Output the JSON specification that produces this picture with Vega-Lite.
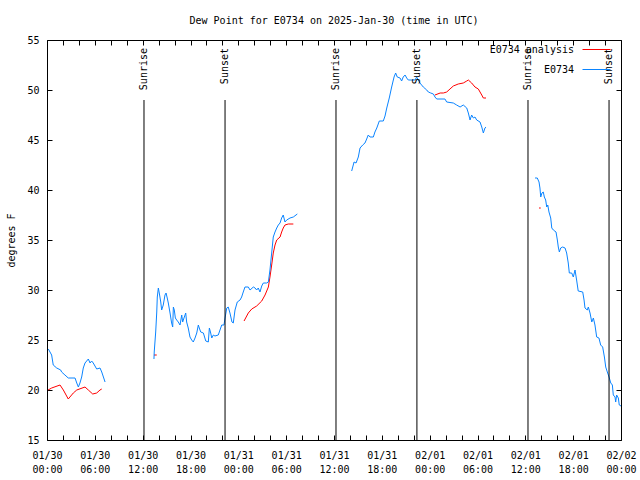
{
  "$schema": "https://vega.github.io/schema/vega-lite/v6.json",
  "width": 574,
  "height": 400,
  "autosize": {"type": "none"},
  "padding": {"left": 47, "top": 40, "right": 19, "bottom": 40},
  "background": "white",
  "config": {
    "font": "DejaVu Sans Mono",
    "view": {"stroke": "black", "strokeWidth": 1},
    "axis": {"labelFont": "DejaVu Sans Mono", "labelFontSize": 10, "titleFont": "DejaVu Sans Mono", "titleFontSize": 10, "titleFontWeight": "normal", "labelColor": "black", "titleColor": "black", "tickColor": "black", "domain": false, "grid": false},
    "legend": {"labelFont": "DejaVu Sans Mono", "labelFontSize": 10, "labelColor": "black"}
  },
  "title": {"text": "Dew Point for E0734 on 2025-Jan-30 (time in UTC)", "font": "DejaVu Sans Mono", "fontSize": 10, "fontWeight": "normal", "color": "black", "anchor": "middle", "offset": 9},
  "datasets": {
    "obs": [
      {"t": "2025-01-30T00:08:00Z", "v": 20.0, "s": "E0734 analysis", "g": "r1"},
      {"t": "2025-01-30T00:35:00Z", "v": 20.2, "s": "E0734 analysis", "g": "r1"},
      {"t": "2025-01-30T01:38:00Z", "v": 20.5, "s": "E0734 analysis", "g": "r1"},
      {"t": "2025-01-30T02:03:00Z", "v": 20.0, "s": "E0734 analysis", "g": "r1"},
      {"t": "2025-01-30T02:40:00Z", "v": 19.1, "s": "E0734 analysis", "g": "r1"},
      {"t": "2025-01-30T03:18:00Z", "v": 19.7, "s": "E0734 analysis", "g": "r1"},
      {"t": "2025-01-30T03:44:00Z", "v": 20.0, "s": "E0734 analysis", "g": "r1"},
      {"t": "2025-01-30T04:46:00Z", "v": 20.3, "s": "E0734 analysis", "g": "r1"},
      {"t": "2025-01-30T05:11:00Z", "v": 20.0, "s": "E0734 analysis", "g": "r1"},
      {"t": "2025-01-30T05:44:00Z", "v": 19.6, "s": "E0734 analysis", "g": "r1"},
      {"t": "2025-01-30T06:14:00Z", "v": 19.7, "s": "E0734 analysis", "g": "r1"},
      {"t": "2025-01-30T06:39:00Z", "v": 20.0, "s": "E0734 analysis", "g": "r1"},
      {"t": "2025-01-30T06:52:00Z", "v": 20.1, "s": "E0734 analysis", "g": "r1"},
      {"t": "2025-01-30T13:25:00Z", "v": 23.5, "s": "E0734 analysis", "g": "r2"},
      {"t": "2025-01-30T13:46:00Z", "v": 23.5, "s": "E0734 analysis", "g": "r2"},
      {"t": "2025-01-31T00:43:00Z", "v": 26.9, "s": "E0734 analysis", "g": "r3"},
      {"t": "2025-01-31T01:15:00Z", "v": 27.7, "s": "E0734 analysis", "g": "r3"},
      {"t": "2025-01-31T01:41:00Z", "v": 28.1, "s": "E0734 analysis", "g": "r3"},
      {"t": "2025-01-31T02:18:00Z", "v": 28.4, "s": "E0734 analysis", "g": "r3"},
      {"t": "2025-01-31T02:56:00Z", "v": 28.9, "s": "E0734 analysis", "g": "r3"},
      {"t": "2025-01-31T03:21:00Z", "v": 29.5, "s": "E0734 analysis", "g": "r3"},
      {"t": "2025-01-31T03:46:00Z", "v": 30.3, "s": "E0734 analysis", "g": "r3"},
      {"t": "2025-01-31T03:58:00Z", "v": 31.3, "s": "E0734 analysis", "g": "r3"},
      {"t": "2025-01-31T04:11:00Z", "v": 32.5, "s": "E0734 analysis", "g": "r3"},
      {"t": "2025-01-31T04:23:00Z", "v": 33.7, "s": "E0734 analysis", "g": "r3"},
      {"t": "2025-01-31T04:36:00Z", "v": 34.5, "s": "E0734 analysis", "g": "r3"},
      {"t": "2025-01-31T04:49:00Z", "v": 35.0, "s": "E0734 analysis", "g": "r3"},
      {"t": "2025-01-31T05:14:00Z", "v": 35.3, "s": "E0734 analysis", "g": "r3"},
      {"t": "2025-01-31T05:26:00Z", "v": 35.8, "s": "E0734 analysis", "g": "r3"},
      {"t": "2025-01-31T05:38:00Z", "v": 36.2, "s": "E0734 analysis", "g": "r3"},
      {"t": "2025-01-31T05:51:00Z", "v": 36.5, "s": "E0734 analysis", "g": "r3"},
      {"t": "2025-01-31T06:16:00Z", "v": 36.6, "s": "E0734 analysis", "g": "r3"},
      {"t": "2025-01-31T06:54:00Z", "v": 36.6, "s": "E0734 analysis", "g": "r3"},
      {"t": "2025-02-01T00:40:00Z", "v": 49.5, "s": "E0734 analysis", "g": "r4"},
      {"t": "2025-02-01T01:19:00Z", "v": 49.7, "s": "E0734 analysis", "g": "r4"},
      {"t": "2025-02-01T01:43:00Z", "v": 49.7, "s": "E0734 analysis", "g": "r4"},
      {"t": "2025-02-01T02:08:00Z", "v": 49.8, "s": "E0734 analysis", "g": "r4"},
      {"t": "2025-02-01T02:33:00Z", "v": 50.1, "s": "E0734 analysis", "g": "r4"},
      {"t": "2025-02-01T02:58:00Z", "v": 50.4, "s": "E0734 analysis", "g": "r4"},
      {"t": "2025-02-01T03:35:00Z", "v": 50.6, "s": "E0734 analysis", "g": "r4"},
      {"t": "2025-02-01T04:13:00Z", "v": 50.7, "s": "E0734 analysis", "g": "r4"},
      {"t": "2025-02-01T04:39:00Z", "v": 50.9, "s": "E0734 analysis", "g": "r4"},
      {"t": "2025-02-01T04:51:00Z", "v": 51.0, "s": "E0734 analysis", "g": "r4"},
      {"t": "2025-02-01T05:16:00Z", "v": 50.7, "s": "E0734 analysis", "g": "r4"},
      {"t": "2025-02-01T05:41:00Z", "v": 50.3, "s": "E0734 analysis", "g": "r4"},
      {"t": "2025-02-01T06:06:00Z", "v": 50.1, "s": "E0734 analysis", "g": "r4"},
      {"t": "2025-02-01T06:32:00Z", "v": 49.5, "s": "E0734 analysis", "g": "r4"},
      {"t": "2025-02-01T06:44:00Z", "v": 49.2, "s": "E0734 analysis", "g": "r4"},
      {"t": "2025-02-01T07:04:00Z", "v": 49.2, "s": "E0734 analysis", "g": "r4"},
      {"t": "2025-02-01T13:43:00Z", "v": 38.2, "s": "E0734 analysis", "g": "r5"},
      {"t": "2025-02-01T13:56:00Z", "v": 38.2, "s": "E0734 analysis", "g": "r5"},
      {"t": "2025-01-30T00:10:00Z", "v": 24.1, "s": "E0734", "g": "b1"},
      {"t": "2025-01-30T00:35:00Z", "v": 23.5, "s": "E0734", "g": "b1"},
      {"t": "2025-01-30T00:47:00Z", "v": 22.5, "s": "E0734", "g": "b1"},
      {"t": "2025-01-30T01:13:00Z", "v": 22.2, "s": "E0734", "g": "b1"},
      {"t": "2025-01-30T01:43:00Z", "v": 22.0, "s": "E0734", "g": "b1"},
      {"t": "2025-01-30T01:50:00Z", "v": 21.8, "s": "E0734", "g": "b1"},
      {"t": "2025-01-30T02:15:00Z", "v": 21.5, "s": "E0734", "g": "b1"},
      {"t": "2025-01-30T02:40:00Z", "v": 21.2, "s": "E0734", "g": "b1"},
      {"t": "2025-01-30T03:31:00Z", "v": 21.2, "s": "E0734", "g": "b1"},
      {"t": "2025-01-30T03:44:00Z", "v": 20.7, "s": "E0734", "g": "b1"},
      {"t": "2025-01-30T03:56:00Z", "v": 20.3, "s": "E0734", "g": "b1"},
      {"t": "2025-01-30T04:08:00Z", "v": 20.7, "s": "E0734", "g": "b1"},
      {"t": "2025-01-30T04:21:00Z", "v": 21.3, "s": "E0734", "g": "b1"},
      {"t": "2025-01-30T04:33:00Z", "v": 22.2, "s": "E0734", "g": "b1"},
      {"t": "2025-01-30T04:46:00Z", "v": 22.7, "s": "E0734", "g": "b1"},
      {"t": "2025-01-30T05:11:00Z", "v": 23.1, "s": "E0734", "g": "b1"},
      {"t": "2025-01-30T05:24:00Z", "v": 22.7, "s": "E0734", "g": "b1"},
      {"t": "2025-01-30T05:36:00Z", "v": 22.9, "s": "E0734", "g": "b1"},
      {"t": "2025-01-30T05:48:00Z", "v": 22.7, "s": "E0734", "g": "b1"},
      {"t": "2025-01-30T06:14:00Z", "v": 22.1, "s": "E0734", "g": "b1"},
      {"t": "2025-01-30T06:39:00Z", "v": 22.2, "s": "E0734", "g": "b1"},
      {"t": "2025-01-30T06:52:00Z", "v": 21.8, "s": "E0734", "g": "b1"},
      {"t": "2025-01-30T07:17:00Z", "v": 20.8, "s": "E0734", "g": "b1"},
      {"t": "2025-01-30T13:25:00Z", "v": 23.1, "s": "E0734", "g": "b2"},
      {"t": "2025-01-30T13:27:00Z", "v": 23.8, "s": "E0734", "g": "b2"},
      {"t": "2025-01-30T13:38:00Z", "v": 25.8, "s": "E0734", "g": "b2"},
      {"t": "2025-01-30T13:46:00Z", "v": 27.8, "s": "E0734", "g": "b2"},
      {"t": "2025-01-30T13:50:00Z", "v": 29.3, "s": "E0734", "g": "b2"},
      {"t": "2025-01-30T13:58:00Z", "v": 30.2, "s": "E0734", "g": "b2"},
      {"t": "2025-01-30T14:05:00Z", "v": 29.7, "s": "E0734", "g": "b2"},
      {"t": "2025-01-30T14:16:00Z", "v": 28.8, "s": "E0734", "g": "b2"},
      {"t": "2025-01-30T14:23:00Z", "v": 28.0, "s": "E0734", "g": "b2"},
      {"t": "2025-01-30T14:35:00Z", "v": 28.5, "s": "E0734", "g": "b2"},
      {"t": "2025-01-30T14:48:00Z", "v": 29.5, "s": "E0734", "g": "b2"},
      {"t": "2025-01-30T14:56:00Z", "v": 29.7, "s": "E0734", "g": "b2"},
      {"t": "2025-01-30T15:05:00Z", "v": 29.2, "s": "E0734", "g": "b2"},
      {"t": "2025-01-30T15:13:00Z", "v": 28.7, "s": "E0734", "g": "b2"},
      {"t": "2025-01-30T15:26:00Z", "v": 27.7, "s": "E0734", "g": "b2"},
      {"t": "2025-01-30T15:38:00Z", "v": 26.7, "s": "E0734", "g": "b2"},
      {"t": "2025-01-30T15:46:00Z", "v": 26.3, "s": "E0734", "g": "b2"},
      {"t": "2025-01-30T15:51:00Z", "v": 28.3, "s": "E0734", "g": "b2"},
      {"t": "2025-01-30T15:58:00Z", "v": 28.0, "s": "E0734", "g": "b2"},
      {"t": "2025-01-30T16:06:00Z", "v": 27.2, "s": "E0734", "g": "b2"},
      {"t": "2025-01-30T16:16:00Z", "v": 27.0, "s": "E0734", "g": "b2"},
      {"t": "2025-01-30T16:28:00Z", "v": 26.8, "s": "E0734", "g": "b2"},
      {"t": "2025-01-30T16:41:00Z", "v": 26.5, "s": "E0734", "g": "b2"},
      {"t": "2025-01-30T16:54:00Z", "v": 27.5, "s": "E0734", "g": "b2"},
      {"t": "2025-01-30T17:01:00Z", "v": 26.8, "s": "E0734", "g": "b2"},
      {"t": "2025-01-30T17:11:00Z", "v": 27.2, "s": "E0734", "g": "b2"},
      {"t": "2025-01-30T17:24:00Z", "v": 27.7, "s": "E0734", "g": "b2"},
      {"t": "2025-01-30T17:31:00Z", "v": 26.8, "s": "E0734", "g": "b2"},
      {"t": "2025-01-30T17:43:00Z", "v": 26.2, "s": "E0734", "g": "b2"},
      {"t": "2025-01-30T17:56:00Z", "v": 25.3, "s": "E0734", "g": "b2"},
      {"t": "2025-01-30T18:09:00Z", "v": 25.0, "s": "E0734", "g": "b2"},
      {"t": "2025-01-30T18:21:00Z", "v": 24.8, "s": "E0734", "g": "b2"},
      {"t": "2025-01-30T18:34:00Z", "v": 25.2, "s": "E0734", "g": "b2"},
      {"t": "2025-01-30T18:47:00Z", "v": 25.7, "s": "E0734", "g": "b2"},
      {"t": "2025-01-30T18:59:00Z", "v": 26.5, "s": "E0734", "g": "b2"},
      {"t": "2025-01-30T19:06:00Z", "v": 26.2, "s": "E0734", "g": "b2"},
      {"t": "2025-01-30T19:17:00Z", "v": 25.8, "s": "E0734", "g": "b2"},
      {"t": "2025-01-30T19:37:00Z", "v": 25.7, "s": "E0734", "g": "b2"},
      {"t": "2025-01-30T19:55:00Z", "v": 24.9, "s": "E0734", "g": "b2"},
      {"t": "2025-01-30T20:14:00Z", "v": 24.8, "s": "E0734", "g": "b2"},
      {"t": "2025-01-30T20:22:00Z", "v": 26.2, "s": "E0734", "g": "b2"},
      {"t": "2025-01-30T20:32:00Z", "v": 25.7, "s": "E0734", "g": "b2"},
      {"t": "2025-01-30T20:40:00Z", "v": 25.2, "s": "E0734", "g": "b2"},
      {"t": "2025-01-30T20:52:00Z", "v": 25.5, "s": "E0734", "g": "b2"},
      {"t": "2025-01-30T21:04:00Z", "v": 25.4, "s": "E0734", "g": "b2"},
      {"t": "2025-01-30T21:29:00Z", "v": 25.5, "s": "E0734", "g": "b2"},
      {"t": "2025-01-30T21:42:00Z", "v": 26.0, "s": "E0734", "g": "b2"},
      {"t": "2025-01-30T21:55:00Z", "v": 26.5, "s": "E0734", "g": "b2"},
      {"t": "2025-01-30T22:12:00Z", "v": 26.5, "s": "E0734", "g": "b2"},
      {"t": "2025-01-30T22:20:00Z", "v": 27.2, "s": "E0734", "g": "b2"},
      {"t": "2025-01-30T22:33:00Z", "v": 28.2, "s": "E0734", "g": "b2"},
      {"t": "2025-01-30T22:44:00Z", "v": 28.3, "s": "E0734", "g": "b2"},
      {"t": "2025-01-30T22:57:00Z", "v": 27.7, "s": "E0734", "g": "b2"},
      {"t": "2025-01-30T23:12:00Z", "v": 26.8, "s": "E0734", "g": "b2"},
      {"t": "2025-01-30T23:22:00Z", "v": 26.7, "s": "E0734", "g": "b2"},
      {"t": "2025-01-30T23:35:00Z", "v": 28.0, "s": "E0734", "g": "b2"},
      {"t": "2025-01-30T23:52:00Z", "v": 28.8, "s": "E0734", "g": "b2"},
      {"t": "2025-01-31T00:13:00Z", "v": 29.0, "s": "E0734", "g": "b2"},
      {"t": "2025-01-31T00:25:00Z", "v": 29.3, "s": "E0734", "g": "b2"},
      {"t": "2025-01-31T00:37:00Z", "v": 29.8, "s": "E0734", "g": "b2"},
      {"t": "2025-01-31T00:50:00Z", "v": 30.3, "s": "E0734", "g": "b2"},
      {"t": "2025-01-31T01:15:00Z", "v": 30.3, "s": "E0734", "g": "b2"},
      {"t": "2025-01-31T01:28:00Z", "v": 30.0, "s": "E0734", "g": "b2"},
      {"t": "2025-01-31T01:53:00Z", "v": 30.3, "s": "E0734", "g": "b2"},
      {"t": "2025-01-31T02:06:00Z", "v": 30.2, "s": "E0734", "g": "b2"},
      {"t": "2025-01-31T02:18:00Z", "v": 30.0, "s": "E0734", "g": "b2"},
      {"t": "2025-01-31T02:30:00Z", "v": 30.2, "s": "E0734", "g": "b2"},
      {"t": "2025-01-31T02:43:00Z", "v": 29.8, "s": "E0734", "g": "b2"},
      {"t": "2025-01-31T02:56:00Z", "v": 30.4, "s": "E0734", "g": "b2"},
      {"t": "2025-01-31T03:08:00Z", "v": 30.7, "s": "E0734", "g": "b2"},
      {"t": "2025-01-31T03:33:00Z", "v": 30.7, "s": "E0734", "g": "b2"},
      {"t": "2025-01-31T03:46:00Z", "v": 30.8, "s": "E0734", "g": "b2"},
      {"t": "2025-01-31T03:58:00Z", "v": 32.0, "s": "E0734", "g": "b2"},
      {"t": "2025-01-31T04:11:00Z", "v": 33.7, "s": "E0734", "g": "b2"},
      {"t": "2025-01-31T04:23:00Z", "v": 35.3, "s": "E0734", "g": "b2"},
      {"t": "2025-01-31T04:36:00Z", "v": 35.8, "s": "E0734", "g": "b2"},
      {"t": "2025-01-31T04:49:00Z", "v": 36.2, "s": "E0734", "g": "b2"},
      {"t": "2025-01-31T05:01:00Z", "v": 36.5, "s": "E0734", "g": "b2"},
      {"t": "2025-01-31T05:14:00Z", "v": 36.7, "s": "E0734", "g": "b2"},
      {"t": "2025-01-31T05:26:00Z", "v": 37.2, "s": "E0734", "g": "b2"},
      {"t": "2025-01-31T05:38:00Z", "v": 37.5, "s": "E0734", "g": "b2"},
      {"t": "2025-01-31T05:51:00Z", "v": 36.8, "s": "E0734", "g": "b2"},
      {"t": "2025-01-31T06:04:00Z", "v": 37.0, "s": "E0734", "g": "b2"},
      {"t": "2025-01-31T06:29:00Z", "v": 37.2, "s": "E0734", "g": "b2"},
      {"t": "2025-01-31T06:54:00Z", "v": 37.3, "s": "E0734", "g": "b2"},
      {"t": "2025-01-31T07:24:00Z", "v": 37.6, "s": "E0734", "g": "b2"},
      {"t": "2025-01-31T14:13:00Z", "v": 41.9, "s": "E0734", "g": "b3"},
      {"t": "2025-01-31T14:21:00Z", "v": 42.3, "s": "E0734", "g": "b3"},
      {"t": "2025-01-31T14:31:00Z", "v": 42.8, "s": "E0734", "g": "b3"},
      {"t": "2025-01-31T14:46:00Z", "v": 42.7, "s": "E0734", "g": "b3"},
      {"t": "2025-01-31T15:03:00Z", "v": 43.3, "s": "E0734", "g": "b3"},
      {"t": "2025-01-31T15:16:00Z", "v": 44.2, "s": "E0734", "g": "b3"},
      {"t": "2025-01-31T15:36:00Z", "v": 44.5, "s": "E0734", "g": "b3"},
      {"t": "2025-01-31T15:53:00Z", "v": 44.7, "s": "E0734", "g": "b3"},
      {"t": "2025-01-31T16:06:00Z", "v": 45.1, "s": "E0734", "g": "b3"},
      {"t": "2025-01-31T16:18:00Z", "v": 45.5, "s": "E0734", "g": "b3"},
      {"t": "2025-01-31T16:31:00Z", "v": 45.3, "s": "E0734", "g": "b3"},
      {"t": "2025-01-31T16:56:00Z", "v": 45.3, "s": "E0734", "g": "b3"},
      {"t": "2025-01-31T17:08:00Z", "v": 45.8, "s": "E0734", "g": "b3"},
      {"t": "2025-01-31T17:22:00Z", "v": 46.2, "s": "E0734", "g": "b3"},
      {"t": "2025-01-31T17:41:00Z", "v": 46.9, "s": "E0734", "g": "b3"},
      {"t": "2025-01-31T18:11:00Z", "v": 46.9, "s": "E0734", "g": "b3"},
      {"t": "2025-01-31T18:24:00Z", "v": 47.4, "s": "E0734", "g": "b3"},
      {"t": "2025-01-31T18:37:00Z", "v": 48.2, "s": "E0734", "g": "b3"},
      {"t": "2025-01-31T18:56:00Z", "v": 49.2, "s": "E0734", "g": "b3"},
      {"t": "2025-01-31T19:14:00Z", "v": 50.3, "s": "E0734", "g": "b3"},
      {"t": "2025-01-31T19:32:00Z", "v": 51.3, "s": "E0734", "g": "b3"},
      {"t": "2025-01-31T19:44:00Z", "v": 51.7, "s": "E0734", "g": "b3"},
      {"t": "2025-01-31T19:56:00Z", "v": 51.3, "s": "E0734", "g": "b3"},
      {"t": "2025-01-31T20:17:00Z", "v": 51.2, "s": "E0734", "g": "b3"},
      {"t": "2025-01-31T20:29:00Z", "v": 50.9, "s": "E0734", "g": "b3"},
      {"t": "2025-01-31T20:41:00Z", "v": 51.3, "s": "E0734", "g": "b3"},
      {"t": "2025-01-31T20:55:00Z", "v": 51.5, "s": "E0734", "g": "b3"},
      {"t": "2025-01-31T21:07:00Z", "v": 51.2, "s": "E0734", "g": "b3"},
      {"t": "2025-01-31T21:19:00Z", "v": 51.0, "s": "E0734", "g": "b3"},
      {"t": "2025-01-31T22:10:00Z", "v": 51.0, "s": "E0734", "g": "b3"},
      {"t": "2025-01-31T22:22:00Z", "v": 51.3, "s": "E0734", "g": "b3"},
      {"t": "2025-01-31T22:47:00Z", "v": 50.7, "s": "E0734", "g": "b3"},
      {"t": "2025-01-31T23:12:00Z", "v": 50.3, "s": "E0734", "g": "b3"},
      {"t": "2025-01-31T23:38:00Z", "v": 50.0, "s": "E0734", "g": "b3"},
      {"t": "2025-01-31T23:50:00Z", "v": 49.8, "s": "E0734", "g": "b3"},
      {"t": "2025-02-01T00:08:00Z", "v": 49.7, "s": "E0734", "g": "b3"},
      {"t": "2025-02-01T00:28:00Z", "v": 49.6, "s": "E0734", "g": "b3"},
      {"t": "2025-02-01T00:40:00Z", "v": 49.3, "s": "E0734", "g": "b3"},
      {"t": "2025-02-01T00:53:00Z", "v": 49.1, "s": "E0734", "g": "b3"},
      {"t": "2025-02-01T01:55:00Z", "v": 49.1, "s": "E0734", "g": "b3"},
      {"t": "2025-02-01T02:08:00Z", "v": 48.8, "s": "E0734", "g": "b3"},
      {"t": "2025-02-01T02:58:00Z", "v": 48.7, "s": "E0734", "g": "b3"},
      {"t": "2025-02-01T03:23:00Z", "v": 48.5, "s": "E0734", "g": "b3"},
      {"t": "2025-02-01T03:49:00Z", "v": 48.3, "s": "E0734", "g": "b3"},
      {"t": "2025-02-01T04:13:00Z", "v": 48.5, "s": "E0734", "g": "b3"},
      {"t": "2025-02-01T04:39:00Z", "v": 48.2, "s": "E0734", "g": "b3"},
      {"t": "2025-02-01T04:51:00Z", "v": 47.7, "s": "E0734", "g": "b3"},
      {"t": "2025-02-01T05:04:00Z", "v": 47.0, "s": "E0734", "g": "b3"},
      {"t": "2025-02-01T05:16:00Z", "v": 47.5, "s": "E0734", "g": "b3"},
      {"t": "2025-02-01T05:29:00Z", "v": 47.2, "s": "E0734", "g": "b3"},
      {"t": "2025-02-01T05:41:00Z", "v": 47.3, "s": "E0734", "g": "b3"},
      {"t": "2025-02-01T05:54:00Z", "v": 47.0, "s": "E0734", "g": "b3"},
      {"t": "2025-02-01T06:19:00Z", "v": 46.8, "s": "E0734", "g": "b3"},
      {"t": "2025-02-01T06:32:00Z", "v": 46.3, "s": "E0734", "g": "b3"},
      {"t": "2025-02-01T06:44:00Z", "v": 45.7, "s": "E0734", "g": "b3"},
      {"t": "2025-02-01T06:56:00Z", "v": 46.2, "s": "E0734", "g": "b3"},
      {"t": "2025-02-01T07:04:00Z", "v": 46.3, "s": "E0734", "g": "b3"},
      {"t": "2025-02-01T13:13:00Z", "v": 41.2, "s": "E0734", "g": "b4"},
      {"t": "2025-02-01T13:30:00Z", "v": 41.2, "s": "E0734", "g": "b4"},
      {"t": "2025-02-01T13:43:00Z", "v": 40.8, "s": "E0734", "g": "b4"},
      {"t": "2025-02-01T13:50:00Z", "v": 40.2, "s": "E0734", "g": "b4"},
      {"t": "2025-02-01T13:56:00Z", "v": 39.3, "s": "E0734", "g": "b4"},
      {"t": "2025-02-01T14:05:00Z", "v": 39.7, "s": "E0734", "g": "b4"},
      {"t": "2025-02-01T14:15:00Z", "v": 39.8, "s": "E0734", "g": "b4"},
      {"t": "2025-02-01T14:23:00Z", "v": 39.3, "s": "E0734", "g": "b4"},
      {"t": "2025-02-01T14:33:00Z", "v": 39.0, "s": "E0734", "g": "b4"},
      {"t": "2025-02-01T14:41:00Z", "v": 38.3, "s": "E0734", "g": "b4"},
      {"t": "2025-02-01T14:49:00Z", "v": 38.5, "s": "E0734", "g": "b4"},
      {"t": "2025-02-01T14:58:00Z", "v": 37.8, "s": "E0734", "g": "b4"},
      {"t": "2025-02-01T15:11:00Z", "v": 37.2, "s": "E0734", "g": "b4"},
      {"t": "2025-02-01T15:19:00Z", "v": 36.2, "s": "E0734", "g": "b4"},
      {"t": "2025-02-01T15:31:00Z", "v": 36.0, "s": "E0734", "g": "b4"},
      {"t": "2025-02-01T15:51:00Z", "v": 35.8, "s": "E0734", "g": "b4"},
      {"t": "2025-02-01T16:01:00Z", "v": 35.0, "s": "E0734", "g": "b4"},
      {"t": "2025-02-01T16:08:00Z", "v": 34.3, "s": "E0734", "g": "b4"},
      {"t": "2025-02-01T16:16:00Z", "v": 33.8, "s": "E0734", "g": "b4"},
      {"t": "2025-02-01T16:26:00Z", "v": 34.2, "s": "E0734", "g": "b4"},
      {"t": "2025-02-01T16:41:00Z", "v": 34.3, "s": "E0734", "g": "b4"},
      {"t": "2025-02-01T16:59:00Z", "v": 34.2, "s": "E0734", "g": "b4"},
      {"t": "2025-02-01T17:11:00Z", "v": 33.7, "s": "E0734", "g": "b4"},
      {"t": "2025-02-01T17:23:00Z", "v": 32.7, "s": "E0734", "g": "b4"},
      {"t": "2025-02-01T17:31:00Z", "v": 31.7, "s": "E0734", "g": "b4"},
      {"t": "2025-02-01T17:49:00Z", "v": 31.7, "s": "E0734", "g": "b4"},
      {"t": "2025-02-01T18:01:00Z", "v": 31.3, "s": "E0734", "g": "b4"},
      {"t": "2025-02-01T18:14:00Z", "v": 32.0, "s": "E0734", "g": "b4"},
      {"t": "2025-02-01T18:26:00Z", "v": 31.0, "s": "E0734", "g": "b4"},
      {"t": "2025-02-01T18:38:00Z", "v": 29.9, "s": "E0734", "g": "b4"},
      {"t": "2025-02-01T19:12:00Z", "v": 29.8, "s": "E0734", "g": "b4"},
      {"t": "2025-02-01T19:22:00Z", "v": 29.0, "s": "E0734", "g": "b4"},
      {"t": "2025-02-01T19:29:00Z", "v": 28.2, "s": "E0734", "g": "b4"},
      {"t": "2025-02-01T19:46:00Z", "v": 28.0, "s": "E0734", "g": "b4"},
      {"t": "2025-02-01T19:54:00Z", "v": 28.3, "s": "E0734", "g": "b4"},
      {"t": "2025-02-01T20:07:00Z", "v": 27.7, "s": "E0734", "g": "b4"},
      {"t": "2025-02-01T20:20:00Z", "v": 26.8, "s": "E0734", "g": "b4"},
      {"t": "2025-02-01T20:32:00Z", "v": 27.2, "s": "E0734", "g": "b4"},
      {"t": "2025-02-01T20:44:00Z", "v": 26.5, "s": "E0734", "g": "b4"},
      {"t": "2025-02-01T20:57:00Z", "v": 25.3, "s": "E0734", "g": "b4"},
      {"t": "2025-02-01T21:14:00Z", "v": 25.2, "s": "E0734", "g": "b4"},
      {"t": "2025-02-01T21:27:00Z", "v": 24.5, "s": "E0734", "g": "b4"},
      {"t": "2025-02-01T21:42:00Z", "v": 24.3, "s": "E0734", "g": "b4"},
      {"t": "2025-02-01T21:55:00Z", "v": 23.3, "s": "E0734", "g": "b4"},
      {"t": "2025-02-01T22:05:00Z", "v": 22.3, "s": "E0734", "g": "b4"},
      {"t": "2025-02-01T22:17:00Z", "v": 21.8, "s": "E0734", "g": "b4"},
      {"t": "2025-02-01T22:30:00Z", "v": 21.3, "s": "E0734", "g": "b4"},
      {"t": "2025-02-01T22:43:00Z", "v": 20.7, "s": "E0734", "g": "b4"},
      {"t": "2025-02-01T22:55:00Z", "v": 20.5, "s": "E0734", "g": "b4"},
      {"t": "2025-02-01T23:02:00Z", "v": 19.5, "s": "E0734", "g": "b4"},
      {"t": "2025-02-01T23:15:00Z", "v": 19.3, "s": "E0734", "g": "b4"},
      {"t": "2025-02-01T23:20:00Z", "v": 18.8, "s": "E0734", "g": "b4"},
      {"t": "2025-02-01T23:27:00Z", "v": 19.5, "s": "E0734", "g": "b4"},
      {"t": "2025-02-01T23:40:00Z", "v": 19.2, "s": "E0734", "g": "b4"},
      {"t": "2025-02-01T23:47:00Z", "v": 18.5, "s": "E0734", "g": "b4"},
      {"t": "2025-02-02T00:00:00Z", "v": 18.4, "s": "E0734", "g": "b4"}
    ],
    "sun": [
      {"t": "2025-01-30T12:10:00Z", "event": "Sunrise"},
      {"t": "2025-01-30T22:20:00Z", "event": "Sunset"},
      {"t": "2025-01-31T12:15:00Z", "event": "Sunrise"},
      {"t": "2025-01-31T22:24:00Z", "event": "Sunset"},
      {"t": "2025-02-01T12:20:00Z", "event": "Sunrise"},
      {"t": "2025-02-01T22:30:00Z", "event": "Sunset"}
    ]
  },
  "resolve": {"axis": {"x": "independent", "y": "independent"}},
  "layer": [
    {
      "data": {"name": "obs"},
      "mark": {"type": "line", "strokeWidth": 1},
      "encoding": {
        "x": {"field": "t", "type": "temporal",
          "scale": {"type": "utc", "domain": [1738195200000, 1738454400000]},
          "axis": {"orient": "bottom", "title": null, "offset": -5, "tickSize": 5, "labelPadding": 10, "labelOverlap": false, "labelFlush": false, "labelLineHeight": 14, "tickCount": 40,
            "values": [1738195200000, 1738202400000, 1738209600000, 1738216800000, 1738224000000, 1738231200000, 1738238400000, 1738245600000, 1738252800000, 1738260000000, 1738267200000, 1738274400000, 1738281600000, 1738288800000, 1738296000000, 1738303200000, 1738310400000, 1738317600000, 1738324800000, 1738332000000, 1738339200000, 1738346400000, 1738353600000, 1738360800000, 1738368000000, 1738375200000, 1738382400000, 1738389600000, 1738396800000, 1738404000000, 1738411200000, 1738418400000, 1738425600000, 1738432800000, 1738440000000, 1738447200000, 1738454400000],
            "labelExpr": "utchours(datum.value) % 6 == 0 ? [utcFormat(datum.value, '%m/%d'), utcFormat(datum.value, '%H:%M')] : ''"}},
        "y": {"field": "v", "type": "quantitative",
          "scale": {"domain": [15, 55], "nice": false, "zero": false},
          "axis": {"orient": "left", "title": "degrees F", "values": [15, 20, 25, 30, 35, 40, 45, 50, 55], "offset": -5, "tickSize": 5, "labelPadding": 8, "titlePadding": 10}},
        "color": {"field": "s", "type": "nominal",
          "scale": {"domain": ["E0734 analysis", "E0734"], "range": ["#ff0000", "#0a84ff"]},
          "legend": {"title": null, "orient": "none", "legendX": 535, "legendY": -5, "padding": 0, "symbolType": "stroke", "symbolSize": 784, "symbolStrokeWidth": 1, "labelAlign": "right", "labelOffset": -37, "rowPadding": 0}},
        "detail": {"field": "g"}
      }
    },
    {
      "data": {"name": "obs"},
      "mark": {"type": "line", "strokeOpacity": 0},
      "encoding": {
        "x": {"field": "t", "type": "temporal",
          "axis": {"orient": "top", "title": null, "labels": false, "offset": -5, "tickSize": 5, "tickCount": 40,
            "values": [1738195200000, 1738202400000, 1738209600000, 1738216800000, 1738224000000, 1738231200000, 1738238400000, 1738245600000, 1738252800000, 1738260000000, 1738267200000, 1738274400000, 1738281600000, 1738288800000, 1738296000000, 1738303200000, 1738310400000, 1738317600000, 1738324800000, 1738332000000, 1738339200000, 1738346400000, 1738353600000, 1738360800000, 1738368000000, 1738375200000, 1738382400000, 1738389600000, 1738396800000, 1738404000000, 1738411200000, 1738418400000, 1738425600000, 1738432800000, 1738440000000, 1738447200000, 1738454400000]}},
        "y": {"field": "v", "type": "quantitative",
          "axis": {"orient": "right", "title": null, "labels": false, "offset": -5, "tickSize": 5, "values": [15, 20, 25, 30, 35, 40, 45, 50, 55]}},
        "detail": {"field": "g"}
      }
    },
    {
      "data": {"name": "sun"},
      "mark": {"type": "rule", "color": "black", "strokeWidth": 1},
      "encoding": {
        "x": {"field": "t", "type": "temporal", "axis": null},
        "y": {"datum": 49, "axis": null},
        "y2": {"datum": 15}
      }
    },
    {
      "data": {"name": "sun"},
      "mark": {"type": "text", "angle": 270, "align": "right", "baseline": "middle", "font": "DejaVu Sans Mono", "fontSize": 10, "color": "black"},
      "encoding": {
        "x": {"field": "t", "type": "temporal", "axis": null},
        "y": {"datum": 54.2, "axis": null},
        "text": {"field": "event"}
      }
    }
  ]
}
